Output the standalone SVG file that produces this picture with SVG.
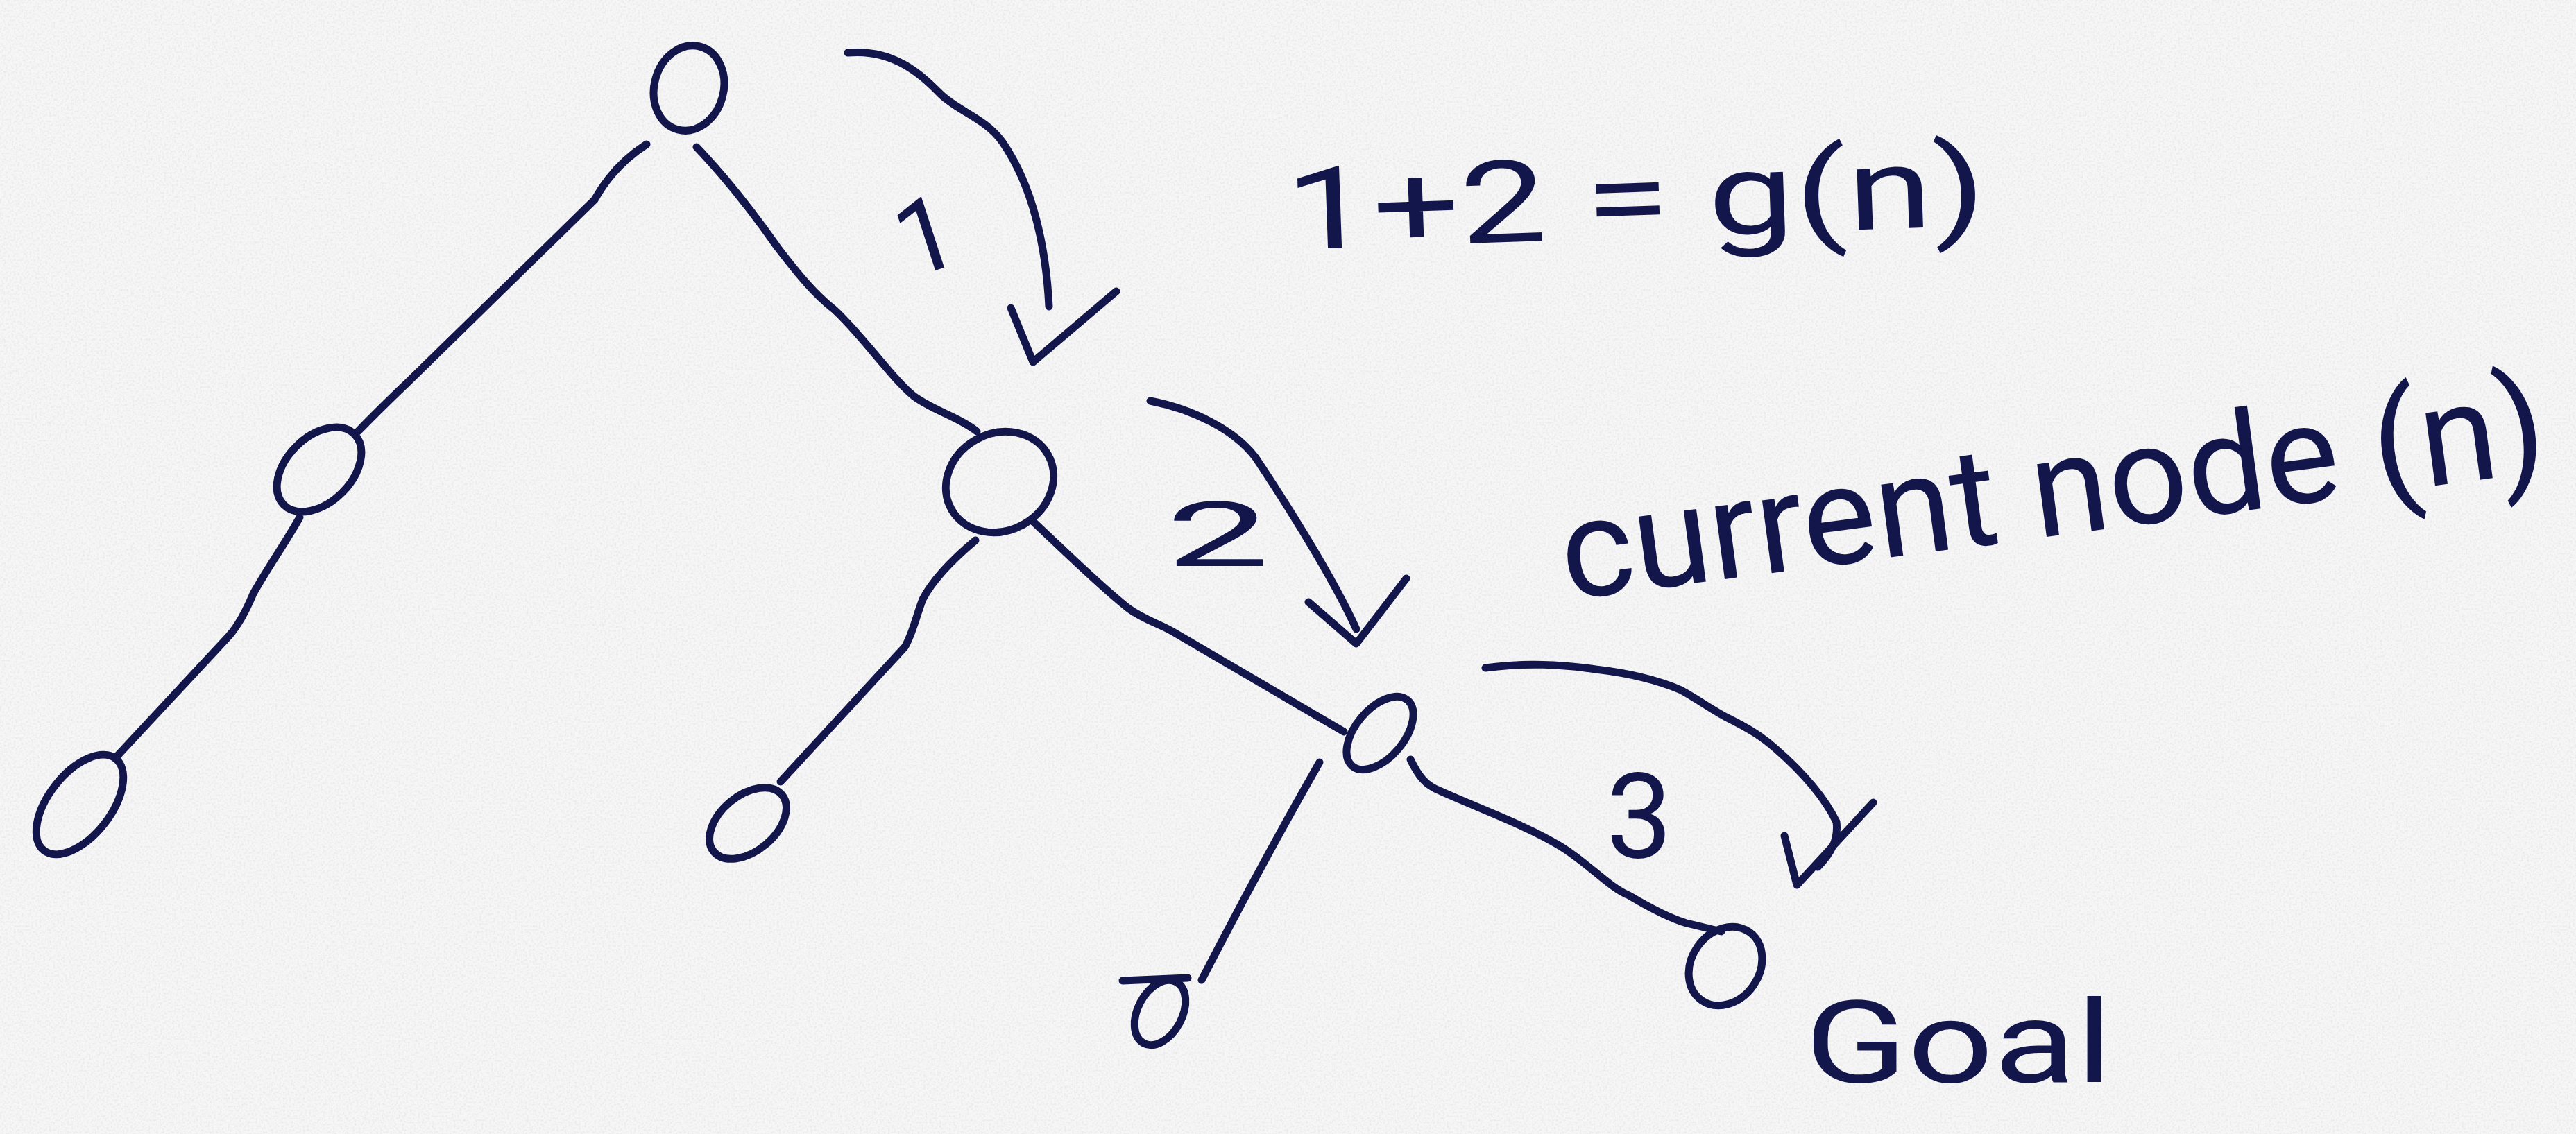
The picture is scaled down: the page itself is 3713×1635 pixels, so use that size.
<svg xmlns="http://www.w3.org/2000/svg" width="3713" height="1635" viewBox="0 0 3713 1635">
  <defs>
    <style>
      .ink { fill: none; stroke: #13164a; stroke-width: 11; stroke-linecap: round; stroke-linejoin: round; }
      .node { fill: none; stroke: #13164a; stroke-width: 11; }
      .lbl { font-family: Roboto, "Liberation Sans", Arial, sans-serif; fill: #13164a; }
    </style>
    <filter id="paper" x="0" y="0" width="100%" height="100%">
      <feTurbulence type="fractalNoise" baseFrequency="0.35" numOctaves="2" seed="7" result="n"/>
      <feColorMatrix in="n" type="matrix" values="0 0 0 0 0.55  0 0 0 0 0.55  0 0 0 0 0.58  0 0 0 -2.2 1.25" result="s"/>
      <feComponentTransfer in="s"><feFuncA type="linear" slope="0.3"/></feComponentTransfer>
    </filter>
  </defs>

  <rect x="0" y="0" width="3713" height="1635" fill="#f6f6f6"/>
  <rect x="0" y="0" width="3713" height="1635" filter="url(#paper)"/>

  <!-- connectors -->
  <g id="connectors">
    <path id="e-root-left" class="ink" d="M932,208 Q885,238 857,288 L589,550 Q545,592 516,622"/>
    <path id="e-root-mid" class="ink" d="M1004,212 C1050,260 1095,320 1121,357 C1150,395 1175,425 1202,446 C1240,480 1285,545 1317,571 C1345,592 1380,600 1408,622"/>
    <path id="e-left-leftleft" class="ink" d="M432,746 C410,785 385,820 365,856 C355,880 345,900 330,917 L168,1091"/>
    <path id="e-mid-midleft" class="ink" d="M1406,779 C1375,805 1345,835 1330,864 C1320,890 1315,915 1304,933 L1125,1127"/>
    <path id="e-mid-n3" class="ink" d="M1487,750 C1530,790 1580,840 1625,876 C1650,895 1675,900 1696,914 L1937,1055"/>
    <path id="e-n3-n3left" class="ink" d="M1902,1099 C1850,1190 1780,1320 1732,1413"/>
    <path id="e-n3-goal" class="ink" d="M2033,1095 C2045,1120 2055,1132 2075,1140 C2130,1165 2200,1190 2249,1220 C2290,1245 2320,1280 2348,1291 C2380,1310 2410,1325 2431,1331 Q2460,1338 2481,1343"/>

    <!-- step arrows -->
    <path id="arrow-1" class="ink" d="M1222,76 C1290,70 1330,110 1355,135 C1380,160 1420,170 1445,205 C1490,270 1508,360 1512,442"/>
    <path class="ink" d="M1457,444 L1489,522 L1609,420"/>
    <path id="arrow-2" class="ink" d="M1658,578 C1720,590 1780,620 1810,660 C1850,720 1920,830 1955,907"/>
    <path class="ink" d="M1886,868 L1955,928 L2027,834"/>
    <path id="arrow-3" class="ink" d="M2141,963 C2200,955 2250,958 2300,965 C2360,972 2400,985 2423,995 C2450,1010 2470,1025 2490,1035 C2520,1050 2540,1062 2560,1080 C2600,1115 2630,1150 2647,1185 C2650,1210 2640,1230 2620,1250"/>
    <path class="ink" d="M2572,1205 L2590,1276 L2700,1157"/>
  </g>

  <!-- nodes -->
  <g id="node-root"><ellipse class="node" cx="993" cy="127" rx="50" ry="62" transform="rotate(15 993 127)"/></g>
  <g id="node-left"><ellipse class="node" cx="460" cy="677" rx="72" ry="47" transform="rotate(-45 460 677)"/></g>
  <g id="node-leftleft"><ellipse class="node" cx="115" cy="1160" rx="84" ry="45" transform="rotate(-52 115 1160)"/></g>
  <g id="node-current"><ellipse class="node" cx="1441" cy="695" rx="80" ry="70" transform="rotate(-30 1441 695)"/></g>
  <g id="node-midleft"><ellipse class="node" cx="1078" cy="1187" rx="64" ry="40" transform="rotate(-40 1078 1187)"/></g>
  <g id="node-3"><ellipse class="node" cx="1989" cy="1057" rx="62" ry="35" transform="rotate(-50 1989 1057)"/></g>
  <g id="node-3left">
    <ellipse class="node" cx="1672" cy="1460" rx="50" ry="32" transform="rotate(-62 1672 1460)"/>
    <path class="ink" d="M1618,1414 L1712,1410"/>
  </g>
  <g id="node-goal"><ellipse class="node" cx="2487" cy="1393" rx="60" ry="49" transform="rotate(-55 2487 1393)"/></g>

  <!-- labels -->
  <g id="labels">
    <text class="lbl" x="1292" y="397" font-size="150" transform="rotate(-18 1318 342)">1</text>
    <text class="lbl" x="1680" y="816" font-size="130" textLength="150" lengthAdjust="spacingAndGlyphs">2</text>
    <text class="lbl" x="2315" y="1236" font-size="170">3</text>
    <text class="lbl" x="1855" y="360" font-size="165" textLength="1010" lengthAdjust="spacingAndGlyphs" transform="rotate(-2 1855 360)">1+2 = g(n)</text>
    <text class="lbl" x="2258" y="865" font-size="200" textLength="1430" lengthAdjust="spacingAndGlyphs" transform="rotate(-7.5 2258 865)">current node (n)</text>
    <text class="lbl" x="2601" y="1560" font-size="165" textLength="444" lengthAdjust="spacingAndGlyphs">Goal</text>
  </g>
</svg>
